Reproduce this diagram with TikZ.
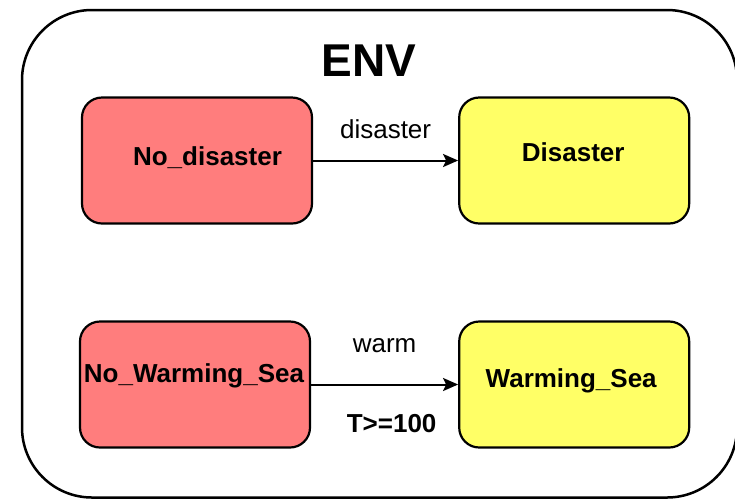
\documentclass[tikz,border=0pt]{standalone}
\usepackage{fontspec}
\setmainfont{Liberation Sans}
\usetikzlibrary{arrows.meta, positioning}
\definecolor{redstate}{RGB}{255,125,125}
\definecolor{yellowstate}{RGB}{255,255,102}
\begin{document}
\begin{tikzpicture}[x=1pt, y=-1pt, >={Stealth[length=15pt, width=13pt, inset=3pt]}, line/.style={draw=black, line width=2pt}, border/.style={draw=black, line width=2.2pt}]
    % Define styles for states and labels
    \tikzstyle{state} = [rectangle, rounded corners=20pt, minimum width=230pt, minimum height=126pt, inner sep=0pt, border]
    \tikzstyle{nostate} = [state, fill=redstate]
    \tikzstyle{yesstate} = [state, fill=yellowstate]
    \tikzstyle{txt} = [font=\fontsize{26}{30}\selectfont]
    \tikzstyle{btxt} = [font=\fontsize{26}{30}\selectfont\bfseries]

    \useasboundingbox (0,0) rectangle (735,499);

    % Environment frame
    \draw[line width=2.5pt, rounded corners=70pt] (22,10) rectangle (737,497.5);
    \node [font=\fontsize{46}{50}\selectfont\bfseries] (envlabel) at (369,61) {ENV};

    % Nodes placement
    \node [nostate, label={[btxt, name=nodisasterlabel, shift={(10.5,-3)}]center:No\_disaster}] (nodisaster) at (197,160.5) {};
    \node [yesstate, right=145pt of nodisaster, label={[btxt, name=disasterlabel, shift={(-1,-8)}]center:Disaster}] (disaster) {};
    \node [nostate, label={[btxt, name=nowarminglabel, shift={(-1,-8.5)}]center:No\_Warming\_Sea}] (nowarming) at (195,384.5) {};
    \node [yesstate, right=147pt of nowarming, label={[btxt, name=warminglabel, shift={(-3,-4)}]center:Warming\_Sea}] (warming) {};

    % Draw edges
    \draw[line, ->] (nodisaster) -- node[txt, above=17pt] (disasteredge) {disaster} (disaster);
    \draw[line, ->] (nowarming) -- node[txt, above=27pt] (warmedge) {warm}
        node[btxt, below=26pt, xshift=7pt] (guard) {T>=100} (warming);
\end{tikzpicture}
\end{document}
